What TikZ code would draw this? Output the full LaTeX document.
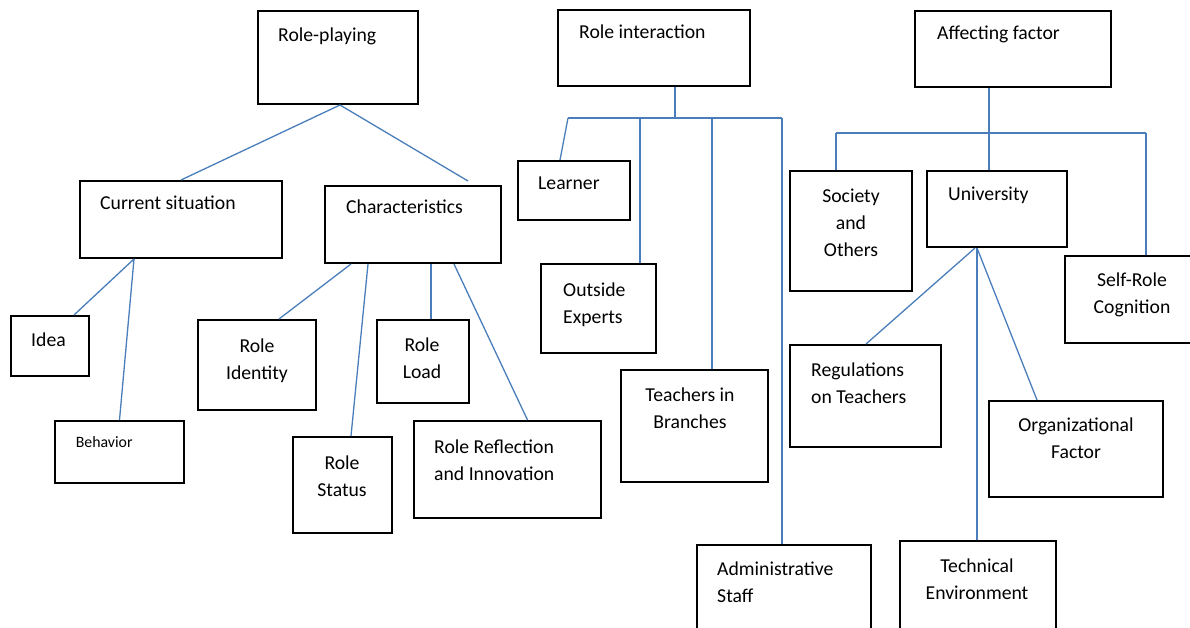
\documentclass[tikz,border=0pt]{standalone}
\usepackage{fontspec}
\setmainfont{Carlito}
\usetikzlibrary{calc,positioning}
\definecolor{linkblue}{HTML}{4A7EBB}

\begin{document}
\begin{tikzpicture}[x=1pt,y=-1pt]
	\tikzstyle{box} = [rectangle, draw = black, line width = 2pt, inner sep = 0pt]
	\tikzstyle{txt} = [inner sep = 0pt, font = \fontsize{19.7}{27}\selectfont]
	\tikzstyle{link} = [draw = linkblue, line width = 1.3pt]
\useasboundingbox (0,0) rectangle (1190,628);
\clip (0,0) rectangle (1190,628);
% boxes
\node[box, minimum width = 160, minimum height = 93] (0) at (338,57.5) {};
\node[box, minimum width = 202, minimum height = 77] (1) at (181,219.5) {};
\node[box, minimum width = 176, minimum height = 77] (2) at (413,224.5) {};
\node[box, minimum width = 78, minimum height = 60] (3) at (50,346) {};
\node[box, minimum width = 129, minimum height = 62] (4) at (119.5,452) {};
\node[box, minimum width = 118, minimum height = 90] (5) at (257,365) {};
\node[box, minimum width = 99, minimum height = 96] (6) at (342.5,485) {};
\node[box, minimum width = 92, minimum height = 83] (7) at (423,361.5) {};
\node[box, minimum width = 187, minimum height = 97] (8) at (507.5,469.5) {};
\node[box, minimum width = 192, minimum height = 76] (9) at (654,48) {};
\node[box, minimum width = 112, minimum height = 59] (10) at (574,190.5) {};
\node[box, minimum width = 115, minimum height = 89] (11) at (598.5,308.5) {};
\node[box, minimum width = 147, minimum height = 112] (12) at (694.5,426) {};
\node[box, minimum width = 174, minimum height = 110] (13) at (784,600) {};
\node[box, minimum width = 196, minimum height = 76] (14) at (1013,49) {};
\node[box, minimum width = 122, minimum height = 120] (15) at (851,231) {};
\node[box, minimum width = 140, minimum height = 76] (16) at (997,209) {};
\node[box, minimum width = 135, minimum height = 87] (17) at (1132.5,299.5) {};
\node[box, minimum width = 151, minimum height = 102] (18) at (865.5,396) {};
\node[box, minimum width = 174, minimum height = 96] (19) at (1076,449) {};
\node[box, minimum width = 156, minimum height = 108] (20) at (978,595) {};
% texts (base = last line)
\node[txt, anchor = base west] (t0) at (278,42) {Role-playing};
\node[txt, anchor = base west] (t1) at (100,210) {Current situation};
\node[txt, anchor = base west] (t2) at (346,214) {Characteristics};
\node[txt, anchor = base west] (t3) at (31,346) {Idea};
\node[txt, anchor = base west, font = \fontsize{15.8}{20}\selectfont] (t4) at (75.7,447) {Behavior};
\node[txt, anchor = base, align = center] (t5) at (257,379) {Role\\Identity};
\node[txt, anchor = base, align = center] (t6) at (342,496) {Role\\Status};
\node[txt, anchor = base, align = center] (t7) at (422,378) {Role\\Load};
\node[txt, anchor = base west, align = left] (t8) at (434,480) {Role Reflection\\and Innovation};
\node[txt, anchor = base west] (t9) at (579,39) {Role interaction};
\node[txt, anchor = base west] (t10) at (538,190) {Learner};
\node[txt, anchor = base west, align = left] (t11) at (563,323) {Outside\\Experts};
\node[txt, anchor = base, align = center] (t12) at (690,428) {Teachers in\\Branches};
\node[txt, anchor = base west, align = left] (t13) at (717,602) {Administrative\\Staff};
\node[txt, anchor = base west] (t14) at (937,40) {Affecting factor};
\node[txt, anchor = base, align = center] (t15) at (851,256) {Society\\and\\Others};
\node[txt, anchor = base west] (t16) at (948,201) {University};
\node[txt, anchor = base, align = center] (t17) at (1132,313) {Self-Role\\Cognition};
\node[txt, anchor = base west, align = left] (t18) at (811,403) {Regulations\\on Teachers};
\node[txt, anchor = base, align = center] (t19) at (1076,458) {Organizational\\Factor};
\node[txt, anchor = base, align = center] (t20) at (977,599) {Technical\\Environment};
% role-playing
	\path[link] ([xshift = 2pt]0.south) -- (1.north);
	\path[link] ([xshift = 2pt]0.south) -- ([xshift = 55pt, yshift = 4pt]2.north);
	\path[link] ([xshift = -47pt]1.south) -- ([xshift = 24pt]3.north);
	\path[link] ([xshift = -47pt]1.south) -- (4.north);
	\path[link] ([xshift = -62pt]2.south) -- ([xshift = 22pt]5.north);
	\path[link] ([xshift = -45pt]2.south) -- ([xshift = 8.5pt]6.north);
	\path[link] ([xshift = 18pt]2.south) -- ([xshift = 8pt]7.north);
	\path[link] ([xshift = 41pt]2.south) -- ([xshift = 20pt]8.north);
% role interaction
\coordinate (b1) at (568,118);
\coordinate (b2) at (782,118);
	\path[link] ([xshift = 21pt]9.south) -- ([xshift = 21pt]9.south |- b1);
	\path[link] (b1) -- (b2);
	\path[link] (b1) -- ([xshift = -14pt]10.north);
	\path[link] ([xshift = 41.5pt]11.north |- b1) -- ([xshift = 41.5pt]11.north);
	\path[link] ([xshift = 17.5pt]12.north |- b1) -- ([xshift = 17.5pt]12.north);
	\path[link] (b2) -- ([xshift = -2pt]13.north);
% affecting factor
\coordinate (c1) at (836,133);
\coordinate (c2) at (1146,133);
	\path[link] ([xshift = -24pt]14.south) -- ([xshift = -24pt]14.south |- c1);
	\path[link] (c1) -- (c2);
	\path[link] (c1) -- ([xshift = -15pt]15.north);
	\path[link] ([xshift = -8pt]16.north |- c1) -- ([xshift = -8pt]16.north);
	\path[link] (c2) -- ([xshift = 13.5pt]17.north);
	\path[link] ([xshift = -22pt]16.south) -- ([xshift = 0.5pt]18.north);
	\path[link] ([xshift = -20pt]16.south) -- ([xshift = -1pt]20.north);
	\path[link] ([xshift = -20pt]16.south) -- ([xshift = -39pt]19.north);
\end{tikzpicture}
\end{document}
